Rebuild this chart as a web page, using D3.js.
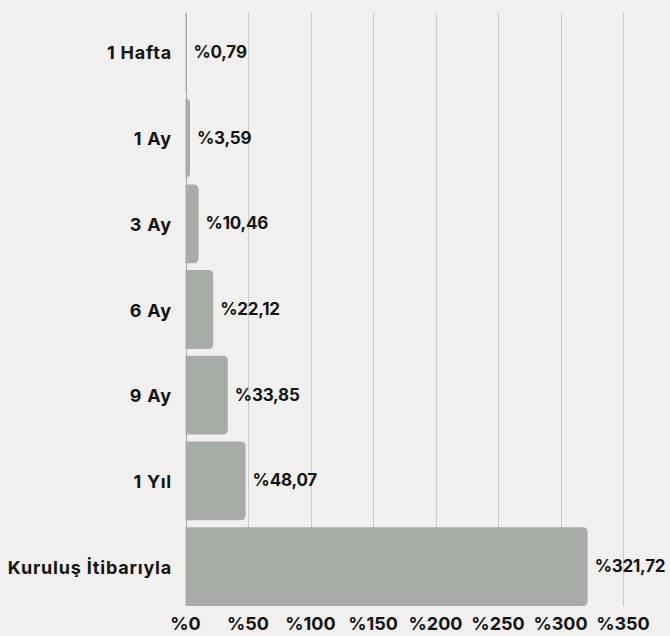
<!DOCTYPE html>
<html>
<head>
<meta charset="utf-8">
<script src="https://cdn.jsdelivr.net/npm/d3@7"></script>
<style>
  html, body { margin: 0; padding: 0; background: #f1f0ee; }
  svg { display: block; font-family: Inter, "Noto Sans", sans-serif; }
</style>
</head>
<body>
<div id="chart"></div>
<script>
// data
const categories = ['1 Hafta', '1 Ay', '3 Ay', '6 Ay', '9 Ay', '1 Yıl', 'Kuruluş İtibarıyla'];
const values = [0.79, 3.59, 10.46, 22.12, 33.85, 48.07, 321.72];
const valueLabels = ['%0,79', '%3,59', '%10,46', '%22,12', '%33,85', '%48,07', '%321,72'];
const tickValues = [0, 50, 100, 150, 200, 250, 300, 350];

const W = 670, H = 636;
const plotLeft = 185.5, plotRight = 623;
const plotTop = 13, plotBottom = 606;

const svg = d3.select('#chart')
  .append('svg')
  .attr('width', W)
  .attr('height', H);

svg.append('rect').attr('width', W).attr('height', H).attr('fill', '#f1f0ee');

const x = d3.scaleLinear().domain([0, 350]).range([plotLeft, plotRight]);
const y = d3.scaleBand()
  .domain(categories)
  .range([plotTop, plotBottom])
  .paddingInner(0.08)
  .paddingOuter(0);

// gridlines
svg.append('g')
  .selectAll('line')
  .data(tickValues)
  .enter()
  .append('line')
  .attr('x1', d => Math.round(x(d)) + 0.5)
  .attr('x2', d => Math.round(x(d)) + 0.5)
  .attr('y1', plotTop)
  .attr('y2', plotBottom)
  .attr('stroke', d => d === 0 ? '#a9aaa7' : '#c9c9c7')
  .attr('stroke-width', 1);

// bars, rounded on the right side only
function barPath(x0, y0, w, h, r) {
  r = Math.min(r, w, h / 2);
  return `M${x0},${y0}H${x0 + w - r}Q${x0 + w},${y0} ${x0 + w},${y0 + r}` +
    `V${y0 + h - r}Q${x0 + w},${y0 + h} ${x0 + w - r},${y0 + h}H${x0}Z`;
}

svg.append('g')
  .selectAll('path')
  .data(values)
  .enter()
  .append('path')
  .attr('d', (d, i) => barPath(x(0), y(categories[i]), x(d) - x(0), y.bandwidth(), 5))
  .attr('fill', '#a8aca6');

// value labels
svg.append('g')
  .selectAll('text')
  .data(values)
  .enter()
  .append('text')
  .attr('x', d => x(d) + 7)
  .attr('y', (d, i) => y(categories[i]) + y.bandwidth() / 2 + 5.5)
  .style('font-size', '17px')
  .style('font-weight', 700)
  .style('letter-spacing', '-0.2px')
  .attr('fill', '#141414')
  .text((d, i) => valueLabels[i]);

// category labels
svg.append('g')
  .selectAll('text')
  .data(categories)
  .enter()
  .append('text')
  .attr('x', 172)
  .attr('y', d => y(d) + y.bandwidth() / 2 + 7)
  .attr('text-anchor', 'end')
  .style('font-size', '18px')
  .style('font-weight', 700)
  .style('letter-spacing', '0.8px')
  .attr('fill', '#141414')
  .text(d => d);

// x axis tick labels
svg.append('g')
  .selectAll('text')
  .data(tickValues)
  .enter()
  .append('text')
  .attr('x', d => x(d))
  .attr('y', 630)
  .attr('text-anchor', 'middle')
  .style('font-size', '18px')
  .style('font-weight', 700)
  .attr('fill', '#141414')
  .text(d => '%' + d);
</script>
</body>
</html>
